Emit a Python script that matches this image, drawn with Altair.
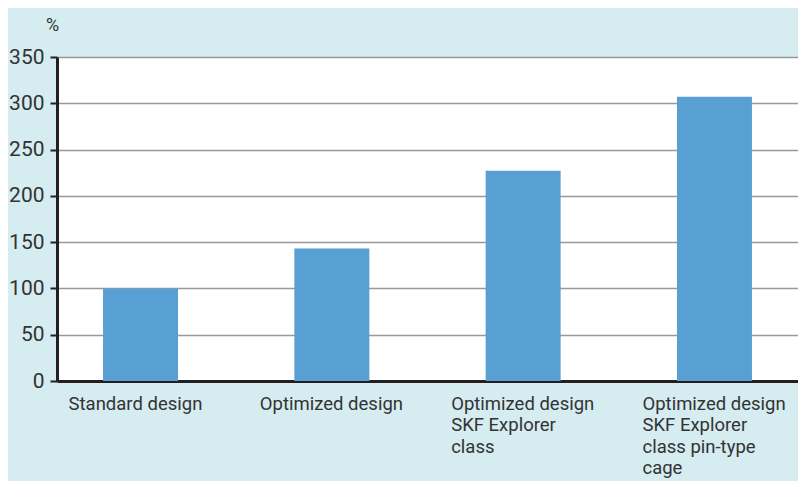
import altair as alt
import pandas as pd

categories = [
    "Standard design",
    "Optimized design",
    "Optimized design\nSKF Explorer\nclass",
    "Optimized design\nSKF  Explorer\nclass pin-type\ncage",
]
values = [100, 143, 227, 307]
y_ticks = [0, 50, 100, 150, 200, 250, 300, 350]

df = pd.DataFrame({"category": categories, "value": values})

FONT = "Roboto"
DARK = "#231f20"

chart = (
    alt.Chart(df)
    .mark_bar(color="#58a0d3")
    .encode(
        x=alt.X(
            "category:N",
            sort=None,
            title=None,
            scale=alt.Scale(paddingInner=0.608, paddingOuter=0.2406),
            axis=alt.Axis(
                domainColor=DARK,
                domainWidth=3,
                ticks=False,
                labelAngle=0,
                labelAlign="left",
                labelBaseline="top",
                labelOffset=-72,
                labelPadding=13,
                labelFont=FONT,
                labelFontSize=18.5,
                labelColor="#333333",
                labelLineHeight=21.5,
                labelLimit=400,
                labelExpr="split(datum.label, '\\n')",
            ),
        ),
        y=alt.Y(
            "value:Q",
            scale=alt.Scale(domain=[0, 350], nice=False),
            axis=alt.Axis(
                values=y_ticks,
                title="%",
                titleAngle=0,
                titleAlign="center",
                titleBaseline="alphabetic",
                titleX=-5,
                titleY=-27,
                titleFont=FONT,
                titleFontSize=18,
                titleFontWeight="normal",
                titleColor="#333333",
                domainColor=DARK,
                domainWidth=3,
                tickColor=DARK,
                tickWidth=2,
                tickSize=7,
                labelFont=FONT,
                labelFontSize=21,
                labelColor="#333333",
                labelPadding=6,
                grid=True,
                gridColor="#999999",
                gridWidth=1.5,
            ),
        ),
    )
    .properties(
        width=741,
        height=324,
        autosize=alt.AutoSizeParams(type="none"),
        padding={"left": 49, "top": 49, "right": 0, "bottom": 100},
        background="#d5ecf0",
    )
    .configure_view(fill="white", stroke=None)
)

chart.save("out.html", embed_options={"renderer": "svg", "actions": False})
